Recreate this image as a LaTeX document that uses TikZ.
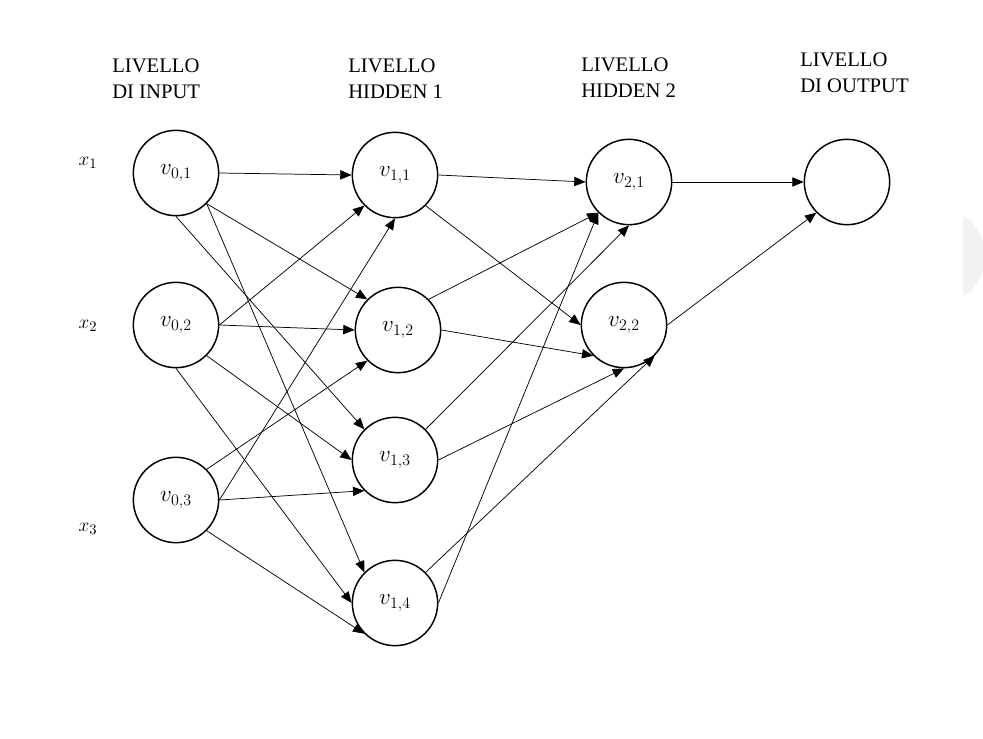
\documentclass[tikz,border=0pt]{standalone}
\usepackage{fontspec}
\setmainfont{Liberation Serif}
\usetikzlibrary{arrows.meta}
\begin{document}
\begin{tikzpicture}[x=0.75pt,y=-0.75pt,>={Triangle[length=8.5pt,width=7pt]},
  main node/.style={circle,draw,line width=1.1pt,minimum size=64pt,inner sep=0pt,font=\fontsize{17}{20}\selectfont},
  layer label/.style={anchor=north west,align=left,inner sep=0pt,font=\fontsize{15.5}{19.5}\selectfont},
  input label/.style={inner sep=0pt,font=\fontsize{15.5}{18}\selectfont},
  link/.style={->,line width=0.55pt}]
\useasboundingbox (0,0) rectangle (983,739);
% faint shape cut by the right edge
\begin{scope}
\clip (963,200) rectangle (983,310);
\fill [black!5] (936,256) circle (49);
\end{scope}
% layer titles
\node [layer label](l0) at (112,59) {LIVELLO\\DI INPUT};
\node [layer label](l1) at (348,59) {LIVELLO\\HIDDEN 1};
\node [layer label](l2) at (581,58) {LIVELLO\\HIDDEN 2};
\node [layer label](l3) at (800,53) {LIVELLO\\DI OUTPUT};
% inputs
\node [input label](x1) at (88,163) {$x_1$};
\node [input label](x2) at (88,326) {$x_2$};
\node [input label](x3) at (88,529) {$x_3$};
% neurons
\node [main node](v01) at (176,173) {$v_{0,1}$};
\node [main node](v02) at (176,325) {$v_{0,2}$};
\node [main node](v03) at (176,500) {$v_{0,3}$};
\node [main node](v11) at (395,175) {$v_{1,1}$};
\node [main node](v12) at (398,330) {$v_{1,2}$};
\node [main node](v13) at (395,460) {$v_{1,3}$};
\node [main node](v14) at (395,603) {$v_{1,4}$};
\node [main node](v21) at (629,182) {$v_{2,1}$};
\node [main node](v22) at (624,325) {$v_{2,2}$};
\node [main node](out) at (847,182) {};
% input -> hidden 1
\draw [link] (v01.east) -- (v11.west);
\draw [link] (v01.south east) -- (v12.north west);
\draw [link] (v01.south) -- (v13.north west);
\draw [link] (v01.south east) -- (v14.north west);
\draw [link] (v02.east) -- (v11.south west);
\draw [link] (v02.east) -- (v12.west);
\draw [link] (v02.south east) -- (v13.west);
\draw [link] (v02.south) -- (v14.west);
\draw [link] (v03.east) -- (v11.south);
\draw [link] (v03.north east) -- (v12.south west);
\draw [link] (v03.east) -- (v13.south west);
\draw [link] (v03.south east) -- (v14.south west);
% hidden 1 -> hidden 2
\draw [link] (v11.east) -- (v21.west);
\draw [link] (v11.south east) -- (v22.west);
\draw [link] (v12.north east) -- (v21.south west);
\draw [link] (v12.east) -- (v22.south west);
\draw [link] (v13.north east) -- (v21.south);
\draw [link] (v13.east) -- (v22.south);
\draw [link] (v14.east) -- (v21.south west);
\draw [link] (v14.north east) -- (v22.south east);
% hidden 2 -> output
\draw [link] (v21.east) -- (out.west);
\draw [link] (v22.east) -- (out.south west);
\end{tikzpicture}
\end{document}
